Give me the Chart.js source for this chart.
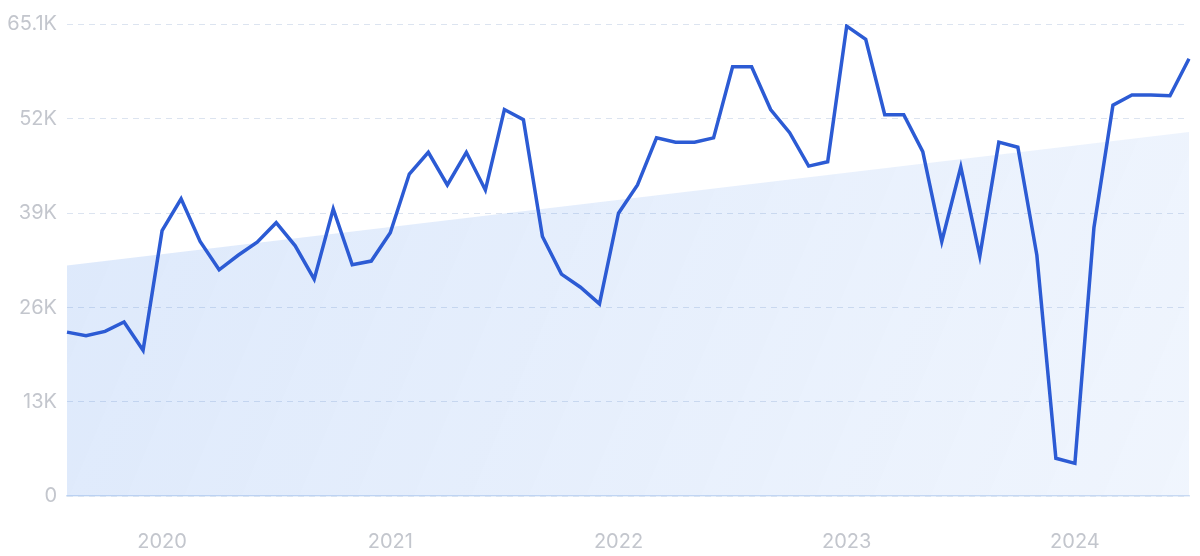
<!DOCTYPE html>
<html>
<head>
<meta charset="utf-8">
<script src="https://cdn.jsdelivr.net/npm/chart.js@4.4.1/dist/chart.umd.min.js"></script>
<style>
  html, body { margin: 0; padding: 0; background: #fff; }
  canvas { display: block; }
</style>
</head>
<body>
<canvas id="chart" width="1200" height="556"></canvas>
<script>
// months shown on the x axis (Aug 2019 - Jul 2024)
var months = [
  '2019-08', '2019-09', '2019-10', '2019-11', '2019-12',
  '2020-01', '2020-02', '2020-03', '2020-04', '2020-05', '2020-06', '2020-07', '2020-08', '2020-09', '2020-10', '2020-11', '2020-12',
  '2021-01', '2021-02', '2021-03', '2021-04', '2021-05', '2021-06', '2021-07', '2021-08', '2021-09', '2021-10', '2021-11', '2021-12',
  '2022-01', '2022-02', '2022-03', '2022-04', '2022-05', '2022-06', '2022-07', '2022-08', '2022-09', '2022-10', '2022-11', '2022-12',
  '2023-01', '2023-02', '2023-03', '2023-04', '2023-05', '2023-06', '2023-07', '2023-08', '2023-09', '2023-10', '2023-11', '2023-12',
  '2024-01', '2024-02', '2024-03', '2024-04', '2024-05', '2024-06', '2024-07'
];

// monthly search volume
var volume = [
  22600, 22100, 22700, 24000, 20100,
  36600, 41000, 35100, 31200, 33200, 35000, 37700, 34500, 29900, 39600, 31900, 32400,
  36300, 44400, 47400, 42900, 47400, 42200, 53300, 51900, 35800, 30600, 28800, 26500,
  39000, 42900, 49400, 48800, 48800, 49400, 59200, 59200, 53300, 50100, 45500, 46100,
  64800, 63000, 52600, 52600, 47500, 35100, 45400, 33100, 48800, 48100, 33200, 5200,
  4500, 37000, 53900, 55300, 55300, 55200, 60300
];

// trend line, start and end values
var trend = [31800, 50200];

// y axis ticks
var yTicks = [0, 13000, 26000, 39000, 52000, 65100];
var yTickLabels = ['0', '13K', '26K', '39K', '52K', '65.1K'];

var labelColor = '#c3c6cd';
var labelFont = { family: 'Inter', size: 20 };

var ctx = document.getElementById('chart').getContext('2d');

new Chart(ctx, {
  type: 'line',
  data: {
    labels: months,
    datasets: [
      {
        label: 'Volume',
        data: volume,
        borderColor: '#2c5bd4',
        borderWidth: 3.5,
        pointRadius: 0,
        tension: 0,
        fill: false,
        order: 0
      },
      {
        label: 'Trend',
        data: [
          { x: months[0], y: trend[0] },
          { x: months[months.length - 1], y: trend[1] }
        ],
        borderWidth: 0,
        borderColor: 'rgba(0,0,0,0)',
        pointRadius: 0,
        fill: 'origin',
        backgroundColor: function (context) {
          var area = context.chart.chartArea;
          if (!area) return 'rgba(40,110,230,0.14)';
          var g = context.chart.ctx.createLinearGradient(area.left, area.top, area.right, area.bottom);
          g.addColorStop(0, 'rgba(40,115,232,0.16)');
          g.addColorStop(1, 'rgba(40,115,232,0.07)');
          return g;
        },
        order: 1
      }
    ]
  },
  options: {
    responsive: false,
    animation: false,
    layout: { padding: { top: 24, right: 11, bottom: 0, left: 0 } },
    plugins: {
      legend: { display: false },
      tooltip: { enabled: false }
    },
    scales: {
      x: {
        type: 'category',
        grid: { display: false, drawTicks: false },
        border: { display: true, color: '#d3e1f4', width: 1.5 },
        ticks: {
          autoSkip: false,
          maxRotation: 0,
          padding: 34,
          color: labelColor,
          font: labelFont,
          callback: function (val, i) {
            var m = months[i];
            return m.slice(5) === '01' ? m.slice(0, 4) : '';
          }
        },
        afterFit: function (scale) {
          scale.height = 60;
          scale.paddingLeft = 0;
          scale.paddingRight = 0;
        }
      },
      y: {
        min: 0,
        max: 65100,
        grid: { color: '#dce4f0', lineWidth: 1, drawTicks: false },
        border: { display: false, dash: [6, 5] },
        ticks: {
          padding: 10,
          color: labelColor,
          font: labelFont,
          callback: function (val) {
            var i = yTicks.indexOf(val);
            return i >= 0 ? yTickLabels[i] : '';
          }
        },
        afterBuildTicks: function (scale) {
          scale.ticks = yTicks.map(function (v) { return { value: v }; });
        },
        afterFit: function (scale) { scale.width = 67; }
      }
    }
  }
});
</script>
</body>
</html>
